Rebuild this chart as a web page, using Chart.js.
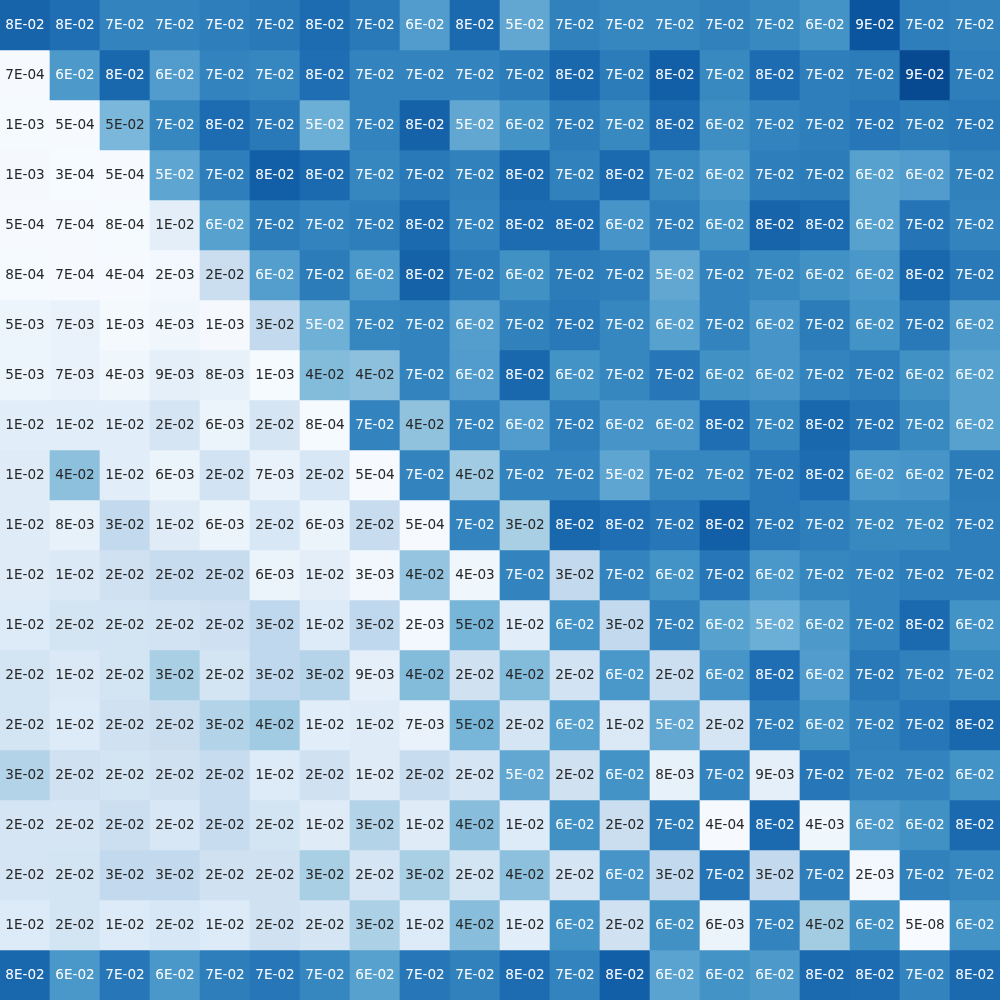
<!DOCTYPE html>
<html>
<head>
<meta charset="utf-8">
<script src="https://cdn.jsdelivr.net/npm/chart.js@4/dist/chart.umd.min.js"></script>
<style>
  html, body { margin: 0; padding: 0; background: #fff; }
  #wrap { width: 1000px; height: 1000px; }
</style>
</head>
<body>
<div id="wrap"><canvas id="heat" width="1000" height="1000"></canvas></div>
<script>
// column categories and row names
const columns = Array.from({ length: 20 }, (_, i) => 'c' + i);
const rowNames = Array.from({ length: 20 }, (_, i) => 'r' + i);

// cell values, one array per row (top to bottom)
const row0  = [0.080, 0.076, 0.068, 0.068, 0.070, 0.072, 0.077, 0.072, 0.058, 0.078, 0.053, 0.069, 0.067, 0.067, 0.069, 0.066, 0.062, 0.086, 0.070, 0.069];
const row1  = [0.0007, 0.059, 0.079, 0.058, 0.068, 0.067, 0.076, 0.068, 0.068, 0.068, 0.071, 0.079, 0.071, 0.082, 0.066, 0.077, 0.070, 0.071, 0.090, 0.070];
const row2  = [0.001, 0.0005, 0.046, 0.067, 0.077, 0.072, 0.050, 0.068, 0.081, 0.053, 0.062, 0.071, 0.066, 0.077, 0.064, 0.068, 0.070, 0.073, 0.071, 0.072];
const row3  = [0.0012, 0.0003, 0.0005, 0.054, 0.070, 0.082, 0.078, 0.067, 0.072, 0.069, 0.079, 0.069, 0.078, 0.066, 0.060, 0.070, 0.071, 0.056, 0.058, 0.069];
const row4  = [0.0005, 0.0007, 0.0008, 0.010, 0.056, 0.071, 0.068, 0.070, 0.078, 0.068, 0.077, 0.077, 0.061, 0.070, 0.062, 0.080, 0.078, 0.056, 0.074, 0.068];
const row5  = [0.0008, 0.0007, 0.0004, 0.002, 0.023, 0.057, 0.071, 0.060, 0.081, 0.071, 0.063, 0.071, 0.070, 0.053, 0.068, 0.066, 0.063, 0.060, 0.079, 0.072];
const row6  = [0.005, 0.007, 0.0013, 0.004, 0.0012, 0.026, 0.049, 0.067, 0.068, 0.057, 0.069, 0.072, 0.067, 0.056, 0.068, 0.061, 0.071, 0.062, 0.072, 0.059];
const row7  = [0.005, 0.007, 0.004, 0.009, 0.008, 0.001, 0.044, 0.042, 0.068, 0.058, 0.079, 0.062, 0.067, 0.073, 0.063, 0.061, 0.068, 0.070, 0.063, 0.056];
const row8  = [0.011, 0.011, 0.011, 0.017, 0.006, 0.017, 0.0008, 0.068, 0.041, 0.068, 0.058, 0.070, 0.061, 0.061, 0.076, 0.067, 0.079, 0.074, 0.066, 0.056];
const row9  = [0.012, 0.042, 0.011, 0.006, 0.019, 0.007, 0.016, 0.0005, 0.068, 0.037, 0.068, 0.068, 0.054, 0.067, 0.067, 0.072, 0.077, 0.060, 0.061, 0.071];
const row10 = [0.012, 0.008, 0.026, 0.012, 0.006, 0.016, 0.006, 0.024, 0.0005, 0.068, 0.034, 0.079, 0.076, 0.073, 0.082, 0.072, 0.070, 0.066, 0.066, 0.070];
const row11 = [0.012, 0.014, 0.020, 0.024, 0.024, 0.006, 0.010, 0.003, 0.040, 0.004, 0.068, 0.026, 0.068, 0.062, 0.073, 0.060, 0.067, 0.068, 0.070, 0.070];
const row12 = [0.013, 0.018, 0.018, 0.019, 0.021, 0.027, 0.013, 0.027, 0.002, 0.047, 0.011, 0.062, 0.026, 0.069, 0.056, 0.050, 0.059, 0.068, 0.078, 0.062];
const row13 = [0.018, 0.014, 0.018, 0.034, 0.018, 0.027, 0.030, 0.009, 0.044, 0.020, 0.044, 0.019, 0.060, 0.022, 0.061, 0.076, 0.058, 0.072, 0.069, 0.066];
const row14 = [0.018, 0.013, 0.020, 0.023, 0.031, 0.037, 0.011, 0.012, 0.007, 0.047, 0.017, 0.056, 0.014, 0.053, 0.017, 0.070, 0.063, 0.069, 0.073, 0.079];
const row15 = [0.031, 0.020, 0.018, 0.020, 0.024, 0.013, 0.020, 0.012, 0.024, 0.017, 0.053, 0.020, 0.062, 0.008, 0.068, 0.009, 0.073, 0.068, 0.068, 0.062];
const row16 = [0.017, 0.017, 0.022, 0.016, 0.024, 0.018, 0.012, 0.031, 0.012, 0.043, 0.013, 0.063, 0.023, 0.071, 0.0004, 0.078, 0.004, 0.059, 0.063, 0.078];
const row17 = [0.017, 0.018, 0.026, 0.026, 0.020, 0.020, 0.034, 0.017, 0.034, 0.018, 0.042, 0.017, 0.061, 0.026, 0.074, 0.026, 0.070, 0.002, 0.069, 0.067];
const row18 = [0.013, 0.018, 0.013, 0.016, 0.013, 0.020, 0.017, 0.033, 0.013, 0.043, 0.011, 0.062, 0.020, 0.063, 0.006, 0.068, 0.036, 0.063, 5e-8, 0.062];
const row19 = [0.079, 0.060, 0.073, 0.060, 0.070, 0.073, 0.067, 0.056, 0.073, 0.069, 0.077, 0.068, 0.082, 0.0552, 0.062, 0.059, 0.078, 0.077, 0.068, 0.078];

const rows = [row0, row1, row2, row3, row4, row5, row6, row7, row8, row9,
              row10, row11, row12, row13, row14, row15, row16, row17, row18, row19];

const vmin = 0;
const vmax = 0.1;

// matplotlib "Blues"
const bluesStops = [
  [247, 251, 255], [222, 235, 247], [198, 219, 239], [158, 202, 225], [107, 174, 214],
  [66, 146, 198], [33, 113, 181], [8, 81, 156], [8, 48, 107]
];

function blues(v) {
  let t = (v - vmin) / (vmax - vmin);
  t = Math.max(0, Math.min(1, t));
  const pos = t * (bluesStops.length - 1);
  const i = Math.min(Math.floor(pos), bluesStops.length - 2);
  const f = pos - i;
  const a = bluesStops[i], b = bluesStops[i + 1];
  return [0, 1, 2].map(k => Math.round(a[k] + (b[k] - a[k]) * f));
}

function luminance(rgb) {
  const lin = rgb.map(c => {
    c = c / 255;
    return c <= 0.03928 ? c / 12.92 : Math.pow((c + 0.055) / 1.055, 2.4);
  });
  return 0.2126 * lin[0] + 0.7152 * lin[1] + 0.0722 * lin[2];
}

function fmt(v) {
  const [m, e] = v.toExponential(0).split('e');
  const n = parseInt(e, 10);
  const sign = n < 0 ? '-' : '+';
  return m + 'E' + sign + String(Math.abs(n)).padStart(2, '0');
}

// --- cell labels ---
const cellLabels = {
  id: 'cellLabels',
  afterDatasetsDraw(chart) {
    const ctx = chart.ctx;
    ctx.save();
    ctx.font = '13.6px "DejaVu Sans"';
    ctx.textAlign = 'center';
    ctx.textBaseline = 'middle';
    chart.data.datasets.forEach((ds, di) => {
      const meta = chart.getDatasetMeta(di);
      meta.data.forEach((bar, ci) => {
        const v = rows[di][ci];
        const rgb = blues(v);
        ctx.fillStyle = luminance(rgb) > 0.408 ? '#262626' : '#ffffff';
        ctx.fillText(fmt(v), bar.x, (bar.y + bar.base) / 2);
      });
    });
    ctx.restore();
  }
};

const datasets = rows.map((r, ri) => ({
  label: rowNames[ri],
  data: r.map(() => 1),
  backgroundColor: r.map(v => {
    const c = blues(v);
    return `rgb(${c[0]},${c[1]},${c[2]})`;
  }),
  borderWidth: 0,
  borderSkipped: false,
  barPercentage: 1,
  categoryPercentage: 1
}));

new Chart(document.getElementById('heat'), {
  type: 'bar',
  data: { labels: columns, datasets },
  options: {
    responsive: false,
    animation: false,
    layout: { padding: 0 },
    plugins: {
      legend: { display: false },
      tooltip: { enabled: false }
    },
    scales: {
      x: { stacked: true, display: false, offset: true },
      y: { stacked: true, display: false, min: 0, max: 20, reverse: true }
    }
  },
  plugins: [cellLabels]
});
</script>
</body>
</html>
